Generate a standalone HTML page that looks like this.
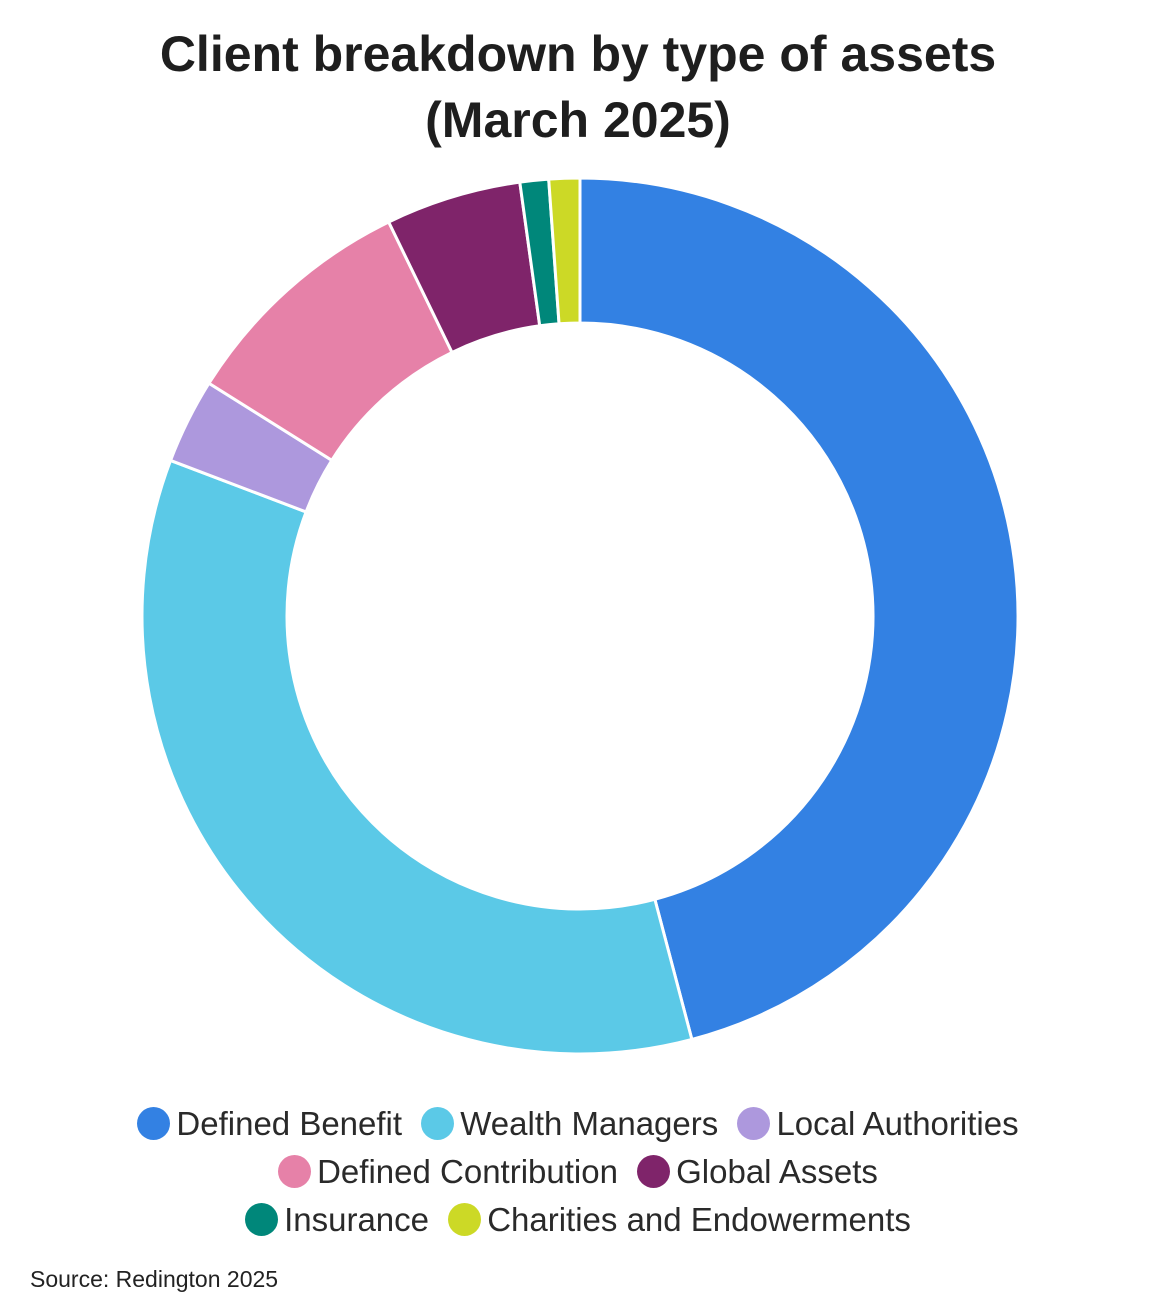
<!DOCTYPE html>
<html><head><meta charset="utf-8"><style>
body{margin:0;background:#fff;width:1156px;height:1314px;overflow:hidden;font-family:"Liberation Sans",sans-serif;color:#222}
.t{position:absolute;left:0;width:1156px;text-align:center;font-weight:bold;font-size:50px;color:#1e1e1e}
.lg{position:absolute;left:0;width:1156px;text-align:center;font-size:33px;color:#2a2a2a;white-space:nowrap}
.it{display:inline-block;margin:0 5px}
.d{display:inline-block;width:33px;height:33px;border-radius:50%;vertical-align:-5px;margin-right:6px}
</style></head><body>
<div class="t" style="top:25px">Client breakdown by type of assets</div>
<div class="t" style="top:91px">(March 2025)</div>
<svg id="s" width="1156" height="1314" style="position:absolute;left:0;top:0"></svg>
<div class="lg" style="top:1105px"><span class="it"><span class="d" style="background:#3381e3"></span>Defined Benefit</span> <span class="it"><span class="d" style="background:#5bc9e7"></span>Wealth Managers</span> <span class="it"><span class="d" style="background:#ad98dd"></span>Local Authorities</span></div>
<div class="lg" style="top:1153px"><span class="it"><span class="d" style="background:#e681a8"></span>Defined Contribution</span> <span class="it"><span class="d" style="background:#7f246a"></span>Global Assets</span></div>
<div class="lg" style="top:1201px"><span class="it"><span class="d" style="background:#00877a"></span>Insurance</span> <span class="it"><span class="d" style="background:#ccd926"></span>Charities and Endowerments</span></div>
<div style="position:absolute;left:30px;top:1266px;font-size:23px;color:#222">Source: Redington 2025</div>
<script>
var cx=580,cy=616,R=438,r=293;
var segs=[[0,165.2,'#3381e3'],[165.2,290.8,'#5bc9e7'],[290.8,302.1,'#ad98dd'],[302.1,334.1,'#e681a8'],[334.1,352.1,'#7f246a'],[352.1,355.9,'#00877a'],[355.9,360,'#ccd926']];
function p(a,rad){a=a*Math.PI/180;return [cx+rad*Math.sin(a),cy-rad*Math.cos(a)];}
var h='';
segs.forEach(function(s){var a=s[0],b=s[1],l=(b-a)>180?1:0;
var o1=p(a,R),o2=p(b,R),i2=p(b,r),i1=p(a,r);
h+='<path d="M'+o1+' A'+R+' '+R+' 0 '+l+' 1 '+o2+' L'+i2+' A'+r+' '+r+' 0 '+l+' 0 '+i1+' Z" fill="'+s[2]+'" stroke="#fff" stroke-width="3"/>';});
document.getElementById('s').innerHTML=h;
</script>
</body></html>
